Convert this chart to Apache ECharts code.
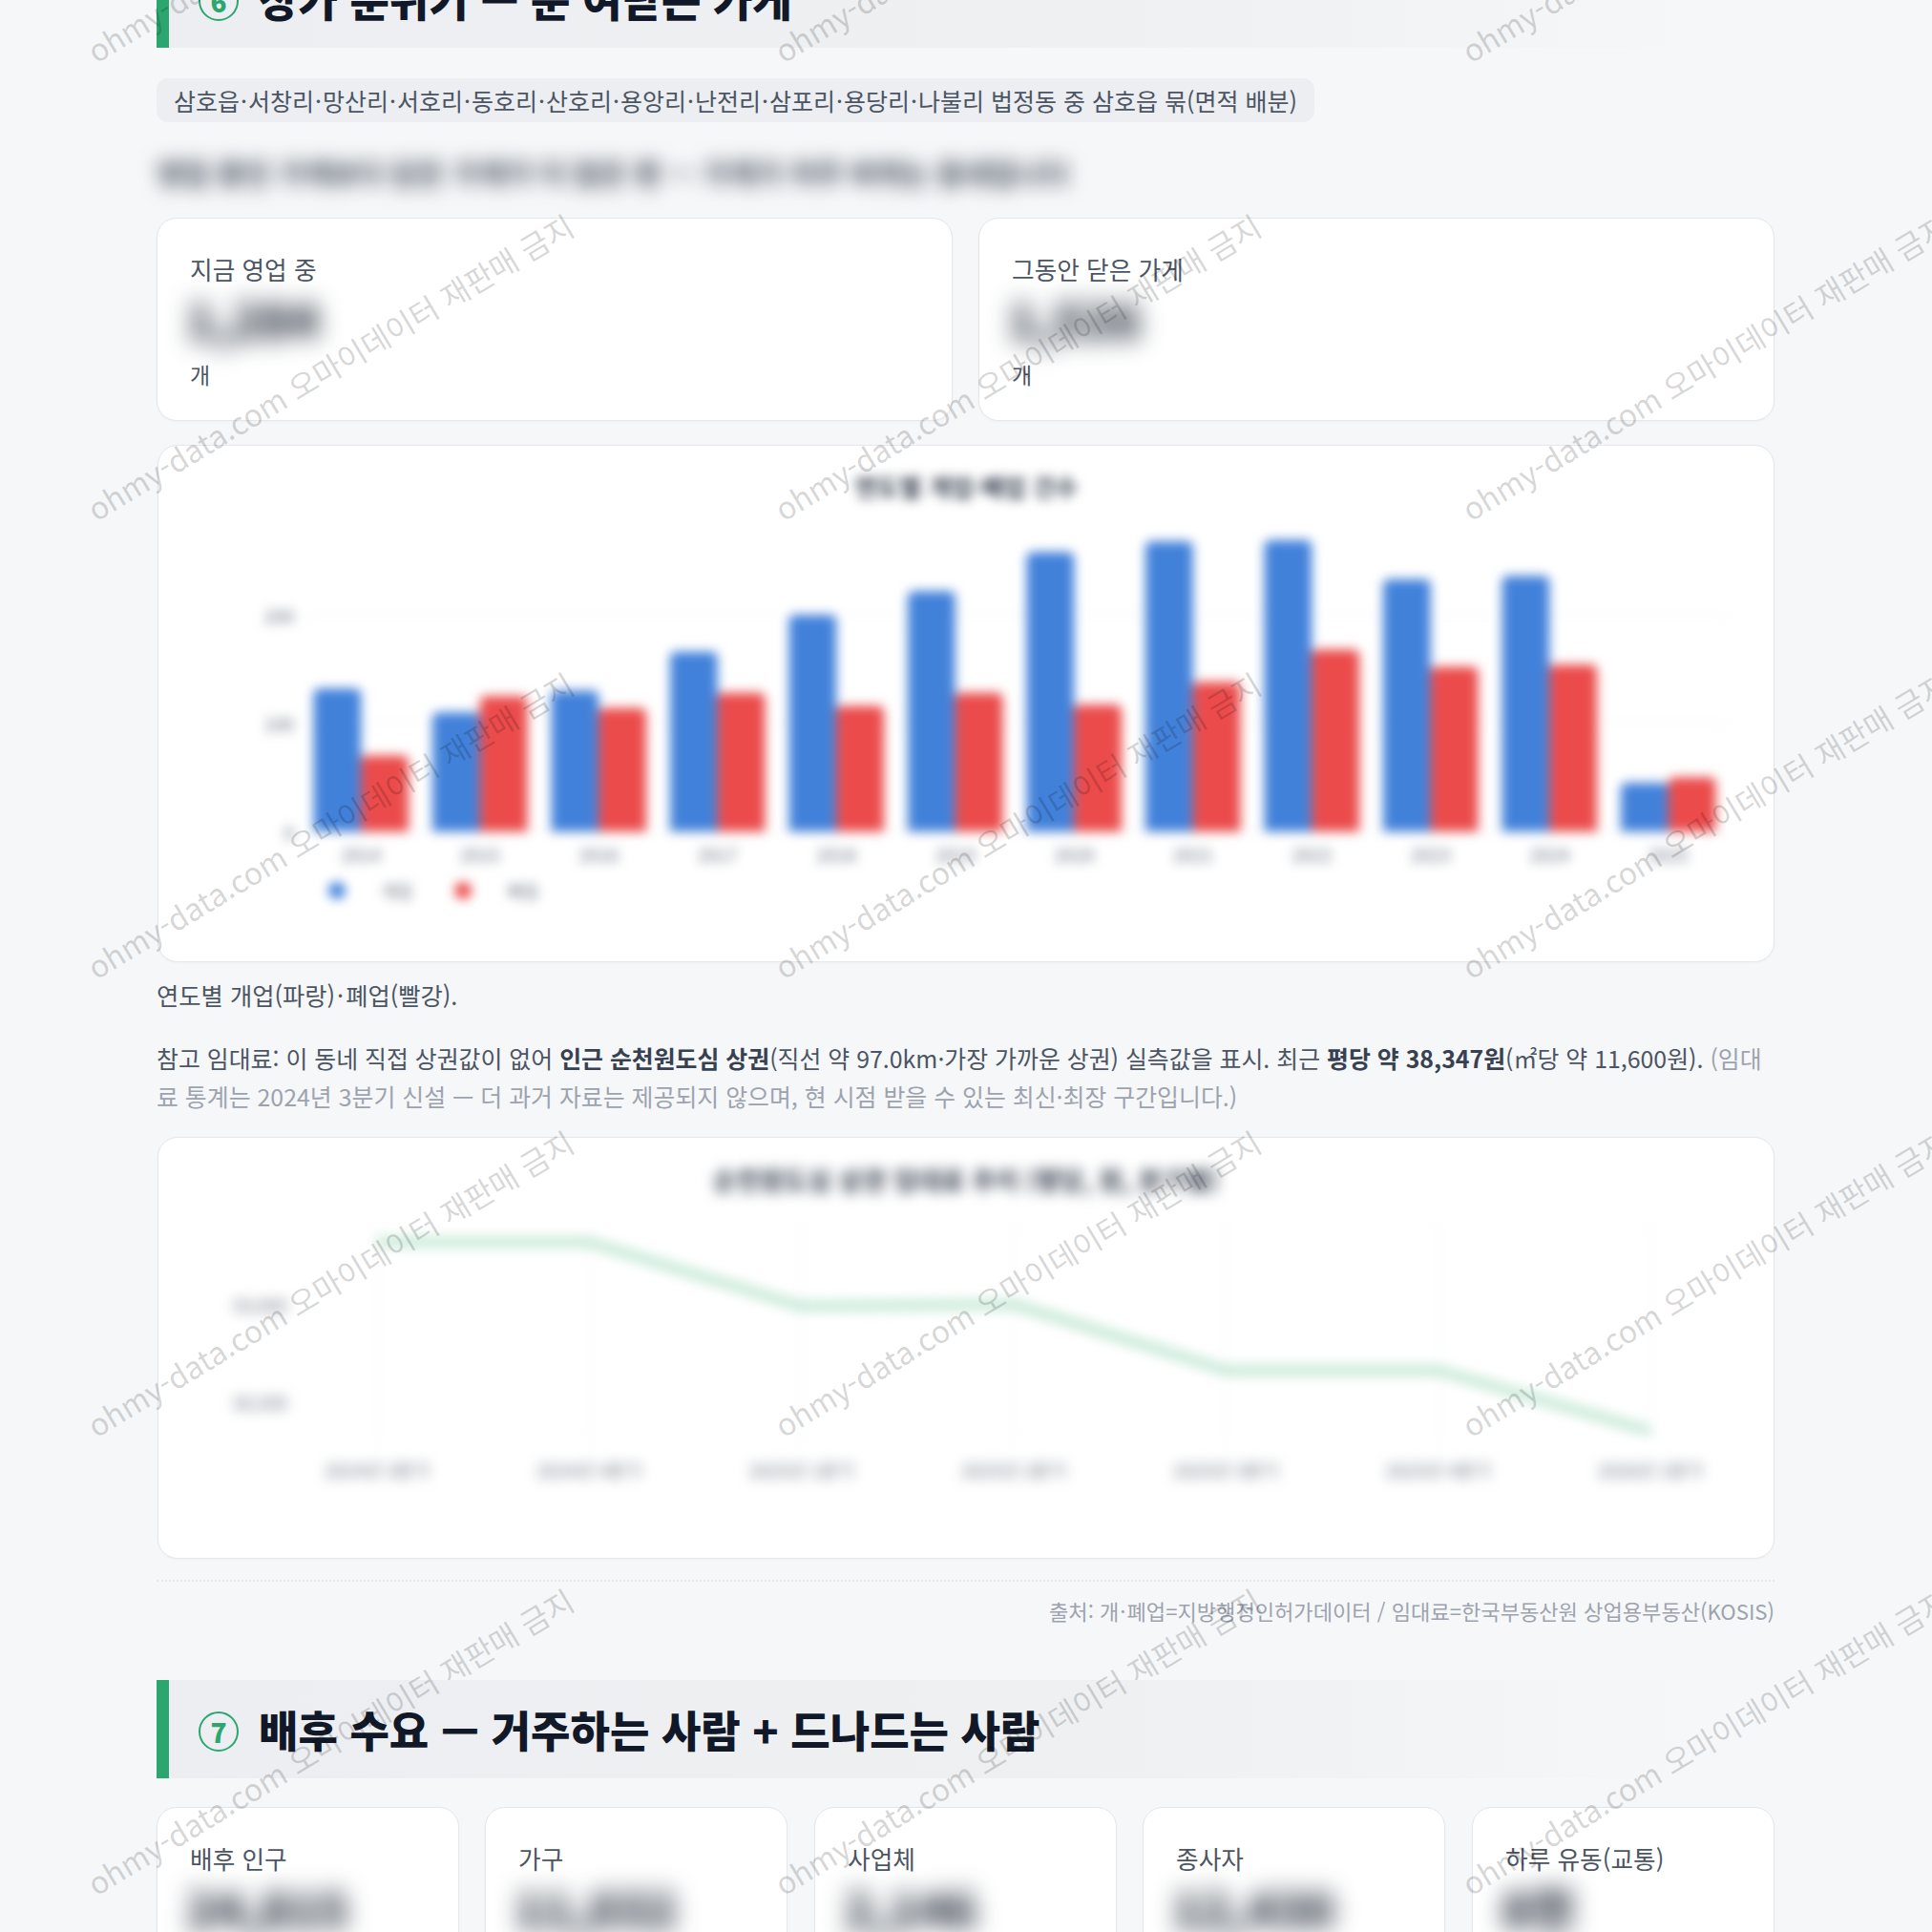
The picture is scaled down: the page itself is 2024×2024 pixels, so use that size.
<!DOCTYPE html>
<html lang="ko">
<head>
<meta charset="utf-8">
<script src="https://cdn.jsdelivr.net/npm/echarts@6/dist/echarts.min.js"></script>
<style>
html,body{margin:0;padding:0;}
body{width:2024px;height:2024px;overflow:hidden;background:#f6f7f9;position:relative;font-family:"Noto Sans CJK KR","Noto Sans",sans-serif;color:#374151;}
.head{position:absolute;left:164px;width:1695px;height:103px;background:linear-gradient(90deg,#eceef1 0%,#eef0f2 60%,rgba(246,247,249,0) 96%);}
.head .gbar{position:absolute;left:0;top:0;width:13px;height:100%;background:#2ca66f;}
.head .circ{position:absolute;left:44px;top:33px;width:38px;height:38px;border:2.5px solid #2ca66f;border-radius:50%;color:#2ca66f;font-weight:900;font-size:28px;line-height:38px;text-align:center;}
.head .htxt{position:absolute;left:107px;top:0;line-height:103px;font-size:45px;font-weight:900;color:#111827;white-space:nowrap;}
.md{margin:0 1px;}
.caption .md{margin:0 2px;}
.pill{position:absolute;left:164px;top:82px;height:46px;line-height:46px;padding:0 18px;background:#eceef2;border-radius:12px;font-size:25px;color:#4b5563;white-space:nowrap;}
.summary{position:absolute;left:164px;top:154px;line-height:52px;font-size:30px;font-weight:700;color:#374151;white-space:nowrap;filter:blur(10px);}
.card{position:absolute;background:#fff;border:1.5px solid #e4e7eb;border-radius:21px;box-sizing:border-box;overflow:hidden;box-shadow:0 1px 3px rgba(0,0,0,0.03);}
.card .lab{position:absolute;left:34px;top:35px;font-size:25.7px;line-height:36px;color:#4b5563;white-space:nowrap;}
.card .val{position:absolute;left:30px;top:72px;font-size:50px;line-height:64px;font-weight:800;color:#1f2937;filter:blur(13px);white-space:nowrap;}
.card .unit{position:absolute;left:34px;top:147px;font-size:23px;line-height:32px;color:#4b5563;}
.chart{position:absolute;left:0;top:0;right:0;bottom:0;filter:blur(6px);}
.caption{position:absolute;left:164px;top:1024px;font-size:25.3px;line-height:36px;color:#4b5563;white-space:nowrap;}
.para{position:absolute;left:164px;top:1088px;width:1695px;font-size:24.9px;line-height:40px;color:#4b5563;}
.para b{color:#374151;font-weight:700;}
.para .muted{color:#9ca3af;}
.dash{position:absolute;left:164px;top:1655px;width:1695px;border-top:2px dotted #e3e6ea;}
.source{position:absolute;right:165px;top:1671px;font-size:22.1px;line-height:32px;color:#9ca3af;white-space:nowrap;}
.wmlayer{position:absolute;left:0;top:0;width:2024px;height:2024px;pointer-events:none;z-index:50;overflow:hidden;}
.wm{position:absolute;width:0;height:0;transform-origin:0 0;transform:rotate(-31deg);}
.wm span{position:absolute;left:0;bottom:-2px;font-size:32px;line-height:32px;white-space:nowrap;color:rgba(0,0,0,0.17);}
</style>
</head>
<body>

<div class="head" style="top:-53px;"><div class="gbar"></div><div class="circ">6</div><div class="htxt">상가 분위기 — 문 여닫는 가게</div></div>

<div class="pill">삼호읍<span class="md">·</span>서창리<span class="md">·</span>망산리<span class="md">·</span>서호리<span class="md">·</span>동호리<span class="md">·</span>산호리<span class="md">·</span>용앙리<span class="md">·</span>난전리<span class="md">·</span>삼포리<span class="md">·</span>용당리<span class="md">·</span>나불리 법정동 중 삼호읍 묶(면적 배분)</div>

<div class="summary">영업 중인 가게보다 닫은 가게가 더 많은 편 — 가게가 자주 바뀌는 동네입니다</div>

<div class="card" style="left:164px;top:228px;width:834px;height:213px;">
  <div class="lab">지금 영업 중</div><div class="val">1,284</div><div class="unit">개</div>
</div>
<div class="card" style="left:1025px;top:228px;width:834px;height:213px;">
  <div class="lab">그동안 닫은 가게</div><div class="val">1,526</div><div class="unit">개</div>
</div>

<div class="card" style="left:165px;top:466px;width:1694px;height:542px;">
  <div class="chart" id="barChart"></div>
</div>

<div class="caption">연도별 개업(파랑)<span class="md">·</span>폐업(빨강).</div>

<div class="para">참고 임대료: 이 동네 직접 상권값이 없어 <b>인근 순천원도심 상권</b>(직선 약 97.0km·가장 가까운 상권) 실측값을 표시. 최근 <b>평당 약 38,347원</b>(㎡당 약 11,600원). <span class="muted">(임대료 통계는 2024년 3분기 신설 — 더 과거 자료는 제공되지 않으며, 현 시점 받을 수 있는 최신·최장 구간입니다.)</span></div>

<div class="card" style="left:165px;top:1191px;width:1694px;height:442px;">
  <div class="chart" id="lineChart" style="filter:blur(7px);"></div>
</div>

<div class="dash"></div>
<div class="source">출처: 개<span class="md">·</span>폐업=지방행정인허가데이터 / 임대료=한국부동산원 상업용부동산(KOSIS)</div>

<div class="head" style="top:1760px;"><div class="gbar"></div><div class="circ">7</div><div class="htxt">배후 수요 — 거주하는 사람 + 드나드는 사람</div></div>

<div class="card" style="left:164px;top:1893px;width:317px;height:240px;"><div class="lab">배후 인구</div><div class="val">24,815</div></div>
<div class="card" style="left:508px;top:1893px;width:317px;height:240px;"><div class="lab">가구</div><div class="val">11,032</div></div>
<div class="card" style="left:853px;top:1893px;width:317px;height:240px;"><div class="lab">사업체</div><div class="val">2,146</div></div>
<div class="card" style="left:1197px;top:1893px;width:317px;height:240px;"><div class="lab">종사자</div><div class="val">12,430</div></div>
<div class="card" style="left:1542px;top:1893px;width:317px;height:240px;"><div class="lab">하루 유동(교통)</div><div class="val">8천</div></div>

<div class="wmlayer" id="wm"></div>

<script>
// ---- data ----
const years = ['2014','2015','2016','2017','2018','2019','2020','2021','2022','2023','2024','2025'];
const openedCounts = [132, 110, 130, 166, 200, 222, 258, 268, 269, 233, 236, 45];
const closedCounts = [70, 125, 114, 128, 116, 128, 117, 138, 168, 152, 154, 50];
const barSeriesNames = ['개업', '폐업'];
const barTitle = '연도별 개업·폐업 건수';

const quarters = ['2024년 3분기','2024년 4분기','2025년 1분기','2025년 2분기','2025년 3분기','2025년 4분기','2026년 1분기'];
const rentPerPyeong = [39320, 39320, 38990, 39000, 38660, 38660, 38347];
const rentTickLabels = [38500, 39000];
const lineTitle = '순천원도심 상권 임대료 추이 (평당, 원, 분기별)';

const watermarkText = 'ohmy-data.com 오마이데이터 재판매 금지';

const FONT = '"Noto Sans CJK KR","Noto Sans",sans-serif';

// ---- bar chart ----
const bar = echarts.init(document.getElementById('barChart'), null, {renderer: 'svg'});
bar.setOption({
  animation: false,
  title: {text: barTitle, left: 'center', top: 24,
    textStyle: {fontSize: 25.5, fontWeight: 'bold', color: '#374151', fontFamily: FONT}},
  legend: {left: 173, top: 452, icon: 'circle', itemWidth: 18, itemHeight: 18, itemGap: 44,
    data: barSeriesNames,
    formatter: name => '{g|}' + name,
    textStyle: {fontSize: 18, color: '#6b7280', fontFamily: FONT, rich: {g: {width: 32}}}},
  grid: {left: 150, right: 48, top: 75, bottom: 136},
  xAxis: {type: 'category', data: years, axisTick: {show: false},
    axisLine: {lineStyle: {color: '#e5e7eb'}},
    axisLabel: {fontSize: 19, color: '#6b7280', margin: 14, fontFamily: FONT}},
  yAxis: {type: 'value', min: 0, max: 290, interval: 100,
    axisLabel: {fontSize: 19, color: '#6b7280', showMaxLabel: false, fontFamily: FONT},
    splitLine: {showMaxLine: false, lineStyle: {color: '#f0f1f4'}}},
  series: [
    {name: barSeriesNames[0], type: 'bar', data: openedCounts, barGap: '0%', barCategoryGap: '20%',
      itemStyle: {color: '#4281da', borderRadius: [6, 6, 0, 0]}},
    {name: barSeriesNames[1], type: 'bar', data: closedCounts,
      itemStyle: {color: '#eb4b4b', borderRadius: [6, 6, 0, 0]}}
  ]
});

// ---- line chart ----
const line = echarts.init(document.getElementById('lineChart'), null, {renderer: 'svg'});
line.setOption({
  animation: false,
  title: {text: lineTitle, left: 'center', top: 25,
    textStyle: {fontSize: 27, fontWeight: 'bold', color: '#374151', fontFamily: FONT}},
  grid: {left: 229, right: 129, top: 89, bottom: 123},
  xAxis: {type: 'category', boundaryGap: false, data: quarters,
    axisTick: {show: false}, axisLine: {show: false},
    splitLine: {show: true, lineStyle: {color: '#eff1f4'}},
    axisLabel: {fontSize: 19, color: '#6b7280', margin: 21, fontFamily: FONT}},
  yAxis: {type: 'value', min: 38300, max: 39420, splitLine: {show: false},
    axisTick: {show: false}, axisLine: {show: false},
    axisLabel: {customValues: rentTickLabels, fontSize: 19, color: '#6b7280', margin: 94, fontFamily: FONT,
      formatter: v => Number(v).toLocaleString('en-US')}},
  series: [{type: 'line', data: rentPerPyeong, showSymbol: false,
    lineStyle: {width: 5, color: '#84cea7'}}]
});

// ---- watermark ----
const wm = document.getElementById('wm');
for (let j = 0; j < 5; j++) {
  for (let i = -1; i < 3; i++) {
    const d = document.createElement('div');
    d.className = 'wm';
    d.style.left = (101 + 720 * i) + 'px';
    d.style.top = (67 + 480 * j) + 'px';
    const s = document.createElement('span');
    s.textContent = watermarkText;
    d.appendChild(s);
    wm.appendChild(d);
  }
}
</script>
</body>
</html>
